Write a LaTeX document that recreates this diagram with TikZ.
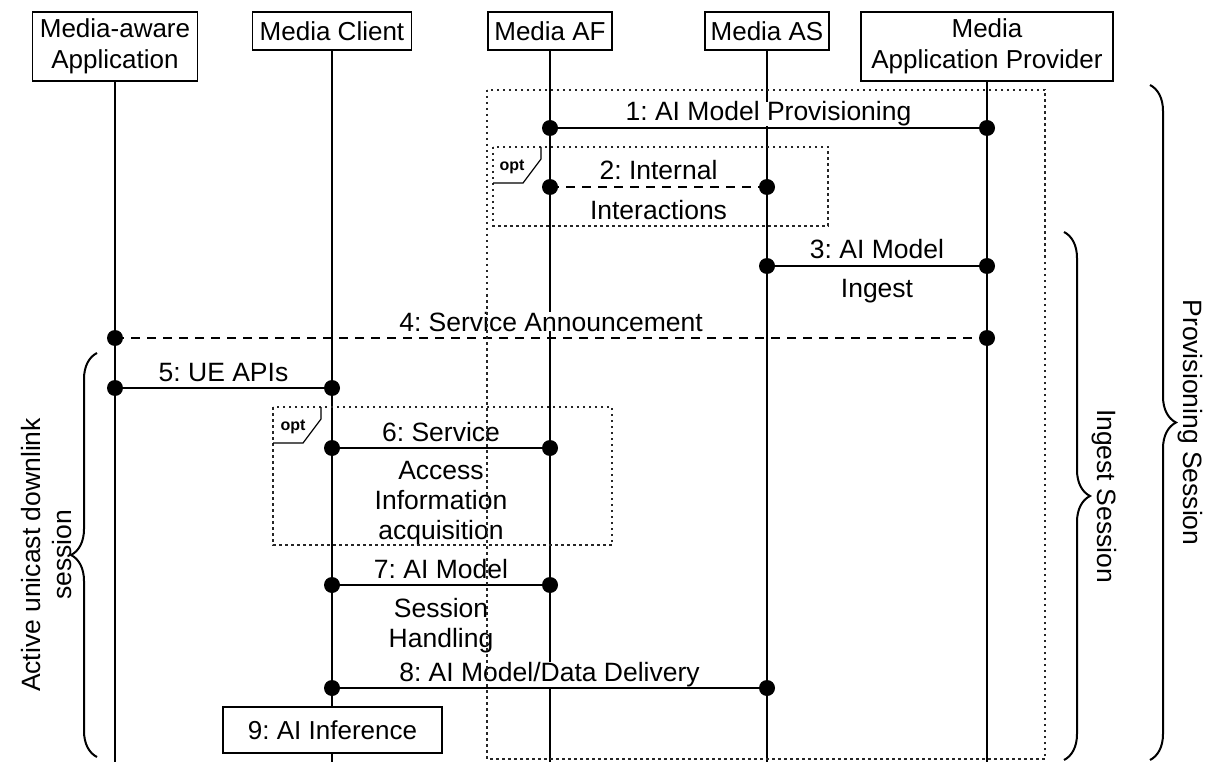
\documentclass[tikz,border=0pt]{standalone}
\usepackage{fontspec}
\setmainfont{Liberation Sans}
\usetikzlibrary{decorations.pathreplacing}
\frenchspacing
\tikzset{
  actor/.style={draw, line width=1.6pt, align=center, inner sep=0pt,
    minimum height=38pt, font=\fontsize{26}{31}\selectfont},
  tallactor/.style={actor, minimum height=69pt},
  lifeline/.style={line width=2.1pt},
  msg/.style={line width=2.1pt},
  dashedmsg/.style={msg, dash pattern=on 9pt off 7pt},
  toplabel/.style={anchor=base, yshift=7pt, fill=white, inner xsep=2pt, inner ysep=0pt},
  bottomlabel/.style={anchor=north, yshift=-12pt, inner sep=0pt, align=center},
  frame/.style={line width=2.2pt, black!85, dash pattern=on 2.5pt off 3.5pt},
  tab/.style={line width=1.2pt},
  opttag/.style={font=\fontsize{16}{18}\selectfont\bfseries, inner sep=0pt},
  session/.style={decorate, decoration={brace, amplitude=26pt}, line width=2pt},
}
\begin{document}
\begin{tikzpicture}[x=1pt, y=-1pt, font=\fontsize{26.5}{30}\selectfont]
\useasboundingbox (0,0) rectangle (1208,762);

% participants
\node[tallactor, minimum width=165pt] (app) at (115,46.5) {Media-aware\\Application};
\node[actor, minimum width=159pt] (mc) at (332,31) {Media Client};
\node[actor, minimum width=124pt] (af) at (550,31) {Media AF};
\node[actor, minimum width=124pt] (as) at (767,31) {Media AS};
\node[tallactor, minimum width=252pt] (map) at (987,46.5) {Media\\Application Provider};

% lifeline ends
\coordinate (appEnd) at (115,762);
\coordinate (mcEnd) at (332,762);
\coordinate (afEnd) at (550,762);
\coordinate (asEnd) at (767,762);
\coordinate (mapEnd) at (987,762);
\draw[lifeline] (app.south) -- (appEnd);
\draw[lifeline] (mc.south) -- (mcEnd);
\draw[lifeline] (af.south) -- (afEnd);
\draw[lifeline] (as.south) -- (asEnd);
\draw[lifeline] (map.south) -- (mapEnd);

% message end points on the lifelines
\coordinate (af1) at (550,128);  \coordinate (map1) at (987,128);
\coordinate (af2) at (550,187);  \coordinate (as2) at (767,187);
\coordinate (as3) at (767,266);  \coordinate (map3) at (987,266);
\coordinate (app4) at (115,338); \coordinate (map4) at (987,338);
\coordinate (app5) at (115,388); \coordinate (mc5) at (332,388);
\coordinate (mc6) at (332,448);  \coordinate (af6) at (550,448);
\coordinate (mc7) at (332,585);  \coordinate (af7) at (550,585);
\coordinate (mc8) at (332,688);  \coordinate (as8) at (767,688);

% messages
\draw[msg] (af1) -- node[toplabel] (l1) {1: AI Model Provisioning} (map1);
\draw[dashedmsg] (af2) -- node[toplabel] (l2) {2: Internal}
  node[bottomlabel] (l2b) {Interactions} (as2);
\draw[msg] (as3) -- node[toplabel] (l3) {3: AI Model}
  node[bottomlabel] (l3b) {Ingest} (map3);
\draw[dashedmsg] (app4) -- node[toplabel] (l4) {4: Service Announcement} (map4);
\draw[msg] (app5) -- node[toplabel] (l5) {5: UE APIs} (mc5);
\draw[msg] (mc6) -- node[toplabel] (l6) {6: Service}
  node[bottomlabel] (l6b) {Access\\Information\\acquisition} (af6);
\draw[msg] (mc7) -- node[toplabel] (l7) {7: AI Model}
  node[bottomlabel] (l7b) {Session\\Handling} (af7);
\draw[msg] (mc8) -- node[toplabel] (l8) {8: AI Model/Data Delivery} (as8);

% end-point dots
\foreach \p in {af1,map1,af2,as2,as3,map3,app4,map4,app5,mc5,mc6,af6,mc7,af7,mc8,as8}
  \fill (\p) circle (8pt);

% local step on the client
\node[actor, minimum width=219pt, minimum height=46pt, fill=white] (infer) at (332.5,730) {9: AI Inference};

% session braces
\draw[session] (1150,85) -- node[right=24pt, rotate=-90, anchor=south] (prov) {Provisioning Session} (1150,760);
\draw[session] (1064,232) -- node[right=24pt, rotate=-90, anchor=south] (ing) {Ingest Session} (1064,760);
\draw[session] (97,757) -- (97,353);
\node[rotate=90, align=center, font=\fontsize{26.5}{31}\selectfont] (act) at (47,555) {Active unicast downlink\\session};

% provisioning frame and optional fragments
\draw[frame] (487,90) rectangle (1045,759);
\draw[frame] (493,147) rectangle (828,226);
\draw[tab] (493,183) -- (523,183) -- (541,159) -- (541,147);
\node[opttag] (opt1) at (512,167) {opt};
\draw[frame] (273,407) rectangle (612,545);
\draw[tab] (273,443) -- (303,443) -- (321,419) -- (321,407);
\node[opttag] (opt2) at (293,427) {opt};
\end{tikzpicture}
\end{document}
